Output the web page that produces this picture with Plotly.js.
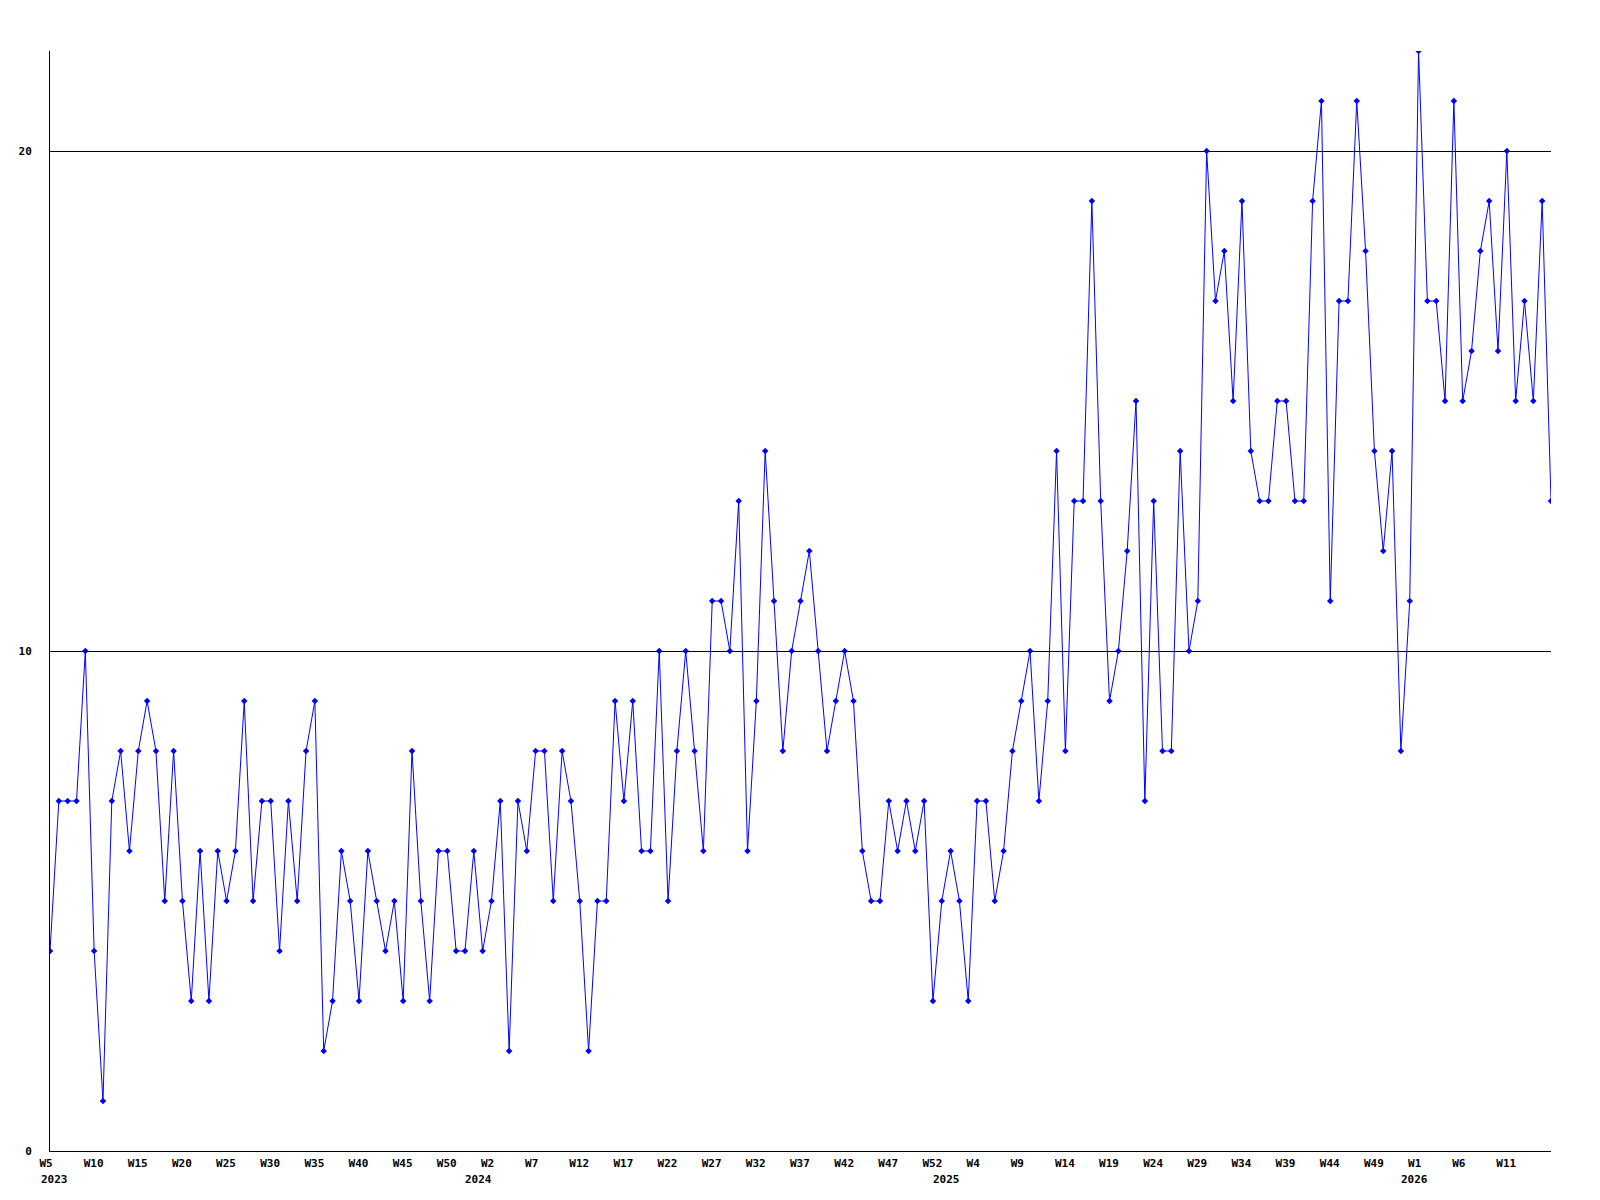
<!DOCTYPE html>
<html>
<head>
<meta charset="utf-8">
<script src="https://cdn.plot.ly/plotly-3.0.1.min.js"></script>
<style>
  html, body { margin: 0; padding: 0; background: #fff; }
  #chart { width: 1600px; height: 1200px; }
</style>
</head>
<body>
<div id="chart"></div>
<script>
// Year segments of the weekly series
const years = [2023, 2024, 2025, 2026];
const firstWeek = [5, 0, 0, 0];
const lastWeek = [52, 52, 52, 16];

// Weekly values (one per week, in order)
const values = [
  4, 7, 7, 7, 10, 4, 1, 7, 8, 6, 8, 9, 8, 5, 8, 5, 3, 6, 3, 6, 5, 6, 9,
  5, 7, 7, 4, 7, 5, 8, 9, 2, 3, 6, 5, 3, 6, 5, 4, 5, 3, 8, 5, 3, 6,
  6, 4, 4, 6, 4, 5, 7, 2, 7, 6, 8, 8, 5, 8, 7, 5, 2, 5, 5, 9, 7, 9,
  6, 6, 10, 5, 8, 10, 8, 6, 11, 11, 10, 13, 6, 9, 14, 11, 8, 10, 11, 12, 10, 8,
  9, 10, 9, 6, 5, 5, 7, 6, 7, 6, 7, 3, 5, 6, 5, 3, 7, 7, 5, 6, 8, 9,
  10, 7, 9, 14, 8, 13, 13, 19, 13, 9, 10, 12, 15, 7, 13, 8, 8, 14, 10, 11, 20, 17,
  18, 15, 19, 14, 13, 13, 15, 15, 13, 13, 19, 21, 11, 17, 17, 21, 18, 14, 12, 14,
  8, 11, 22, 17, 17, 15, 21, 15, 16, 18, 19, 16, 20, 15, 17, 15, 19, 13
];

// Tick labels shown every fifth week
const tickLabels = [
  'W5', 'W10', 'W15', 'W20', 'W25', 'W30', 'W35', 'W40', 'W45', 'W50',
  'W2', 'W7', 'W12', 'W17', 'W22', 'W27', 'W32', 'W37', 'W42', 'W47', 'W52',
  'W4', 'W9', 'W14', 'W19', 'W24', 'W29', 'W34', 'W39', 'W44', 'W49',
  'W1', 'W6', 'W11'
];
const yearLabels = ['2023', '2024', '2025', '2026'];
const yTicks = [0, 10, 20];

// Build week categories
const categories = [];
const yearFirstCat = [];
years.forEach((y, i) => {
  for (let w = firstWeek[i]; w <= lastWeek[i]; w++) {
    const c = y + '-W' + w;
    if (w === firstWeek[i]) yearFirstCat.push(c);
    categories.push(c);
  }
});
const tickCats = categories.filter((c, i) => i % 5 === 0).slice(0, tickLabels.length);

const monoFont = { family: 'DejaVu Sans Mono, monospace', size: 11, color: '#000', weight: 'bold' };

const trace = {
  type: 'scatter',
  mode: 'lines+markers',
  x: categories,
  y: values,
  line: { color: '#0000ff', width: 1 },
  marker: { color: '#0000ff', size: 5, symbol: 'diamond' },
  hoverinfo: 'x+y'
};

const annotations = yearLabels.map((t, i) => ({
  x: yearFirstCat[i],
  xref: 'x',
  y: 0,
  yref: 'paper',
  text: t,
  showarrow: false,
  xanchor: 'left',
  yanchor: 'middle',
  xshift: -11,
  yshift: -28,
  font: monoFont
}));

const layout = {
  width: 1600,
  height: 1200,
  margin: { l: 50, r: 49, t: 51, b: 49 },
  paper_bgcolor: '#ffffff',
  plot_bgcolor: '#ffffff',
  showlegend: false,
  xaxis: {
    type: 'category',
    range: [0, categories.length - 1],
    tickmode: 'array',
    tickvals: tickCats,
    ticktext: tickLabels,
    ticks: '',
    showgrid: false,
    zeroline: false,
    showline: true,
    linecolor: '#000',
    linewidth: 1,
    tickangle: 0,
    ticklabelposition: 'outside right',
    ticklabelshift: -11,
    ticklabelstandoff: 2,
    tickfont: monoFont
  },
  yaxis: {
    range: [0, 22],
    tickmode: 'array',
    tickvals: yTicks,
    ticktext: yTicks.map(String),
    ticks: '',
    showgrid: true,
    gridcolor: '#000',
    gridwidth: 1,
    zeroline: false,
    showline: true,
    linecolor: '#000',
    linewidth: 1,
    ticklabelstandoff: 15,
    tickfont: monoFont
  },
  annotations: annotations
};

Plotly.newPlot('chart', [trace], layout, { displayModeBar: false, staticPlot: true });
</script>
</body>
</html>
